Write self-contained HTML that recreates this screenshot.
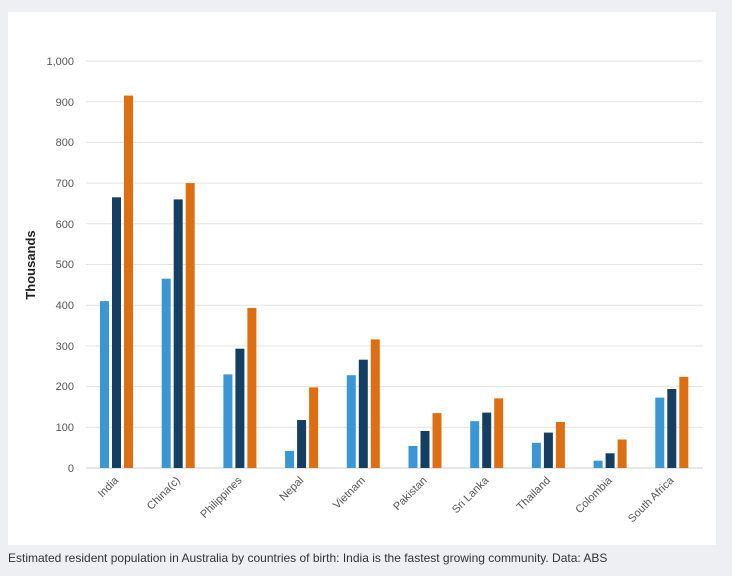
<!DOCTYPE html><html><head><style>
body{margin:0;width:732px;height:576px;background:#edeff3;font-family:"Liberation Sans",sans-serif;overflow:hidden}
</style></head><body>
<svg width="732" height="576" style="position:absolute;left:0;top:0" font-family="Liberation Sans, sans-serif">
<rect x="8" y="12" width="708" height="533" fill="#fff"/>
<g stroke="#e3e3e3" stroke-width="1">
<line x1="86" x2="703" y1="61" y2="61"/><line x1="86" x2="703" y1="101.7" y2="101.7"/><line x1="86" x2="703" y1="142.4" y2="142.4"/><line x1="86" x2="703" y1="183.1" y2="183.1"/><line x1="86" x2="703" y1="223.8" y2="223.8"/><line x1="86" x2="703" y1="264.5" y2="264.5"/><line x1="86" x2="703" y1="305.2" y2="305.2"/><line x1="86" x2="703" y1="345.9" y2="345.9"/><line x1="86" x2="703" y1="386.6" y2="386.6"/><line x1="86" x2="703" y1="427.3" y2="427.3"/>
</g>
<line x1="86" x2="703" y1="468" y2="468" stroke="#c8ccd4"/>
<g font-size="11" fill="#555" text-anchor="end">
<text x="74" y="65">1,000</text><text x="74" y="106">900</text><text x="74" y="146">800</text><text x="74" y="187">700</text><text x="74" y="228">600</text><text x="74" y="268">500</text><text x="74" y="309">400</text><text x="74" y="350">300</text><text x="74" y="390">200</text><text x="74" y="431">100</text><text x="74" y="472">0</text>
</g>
<text transform="translate(35,265) rotate(-90)" text-anchor="middle" font-size="13" font-weight="bold" fill="#222">Thousands</text>
<g id="bars"></g>
<g id="labs" font-size="11" fill="#555"></g>
</svg>
<div style="position:absolute;left:8px;top:551px;font-size:12px;color:#333">Estimated resident population in Australia by countries of birth: India is the fastest growing community. Data: ABS</div>
<script>
var d=[["India",410,665,915],["China(c)",465,660,700],["Philippines",230,293,393],["Nepal",42,118,198],["Vietnam",228,266,316],["Pakistan",54,91,135],["Sri Lanka",115,136,171],["Thailand",62,87,113],["Colombia",18,36,70],["South Africa",173,194,224]];
var c=["#3a97d3","#143f63","#dd6f12"],b="",l="";
d.forEach(function(r,i){var x0=100+i*61.7;
for(var k=0;k<3;k++){var h=r[k+1]*0.407;b+='<rect x="'+(x0+k*12).toFixed(1)+'" y="'+(468-h).toFixed(1)+'" width="9" height="'+h.toFixed(1)+'" fill="'+c[k]+'"/>';}
var cx=x0+19;l+='<text text-anchor="end" transform="translate('+cx+',481) rotate(-45)">'+r[0]+'</text>';});
document.getElementById("bars").innerHTML=b;document.getElementById("labs").innerHTML=l;
</script>
</body></html>
